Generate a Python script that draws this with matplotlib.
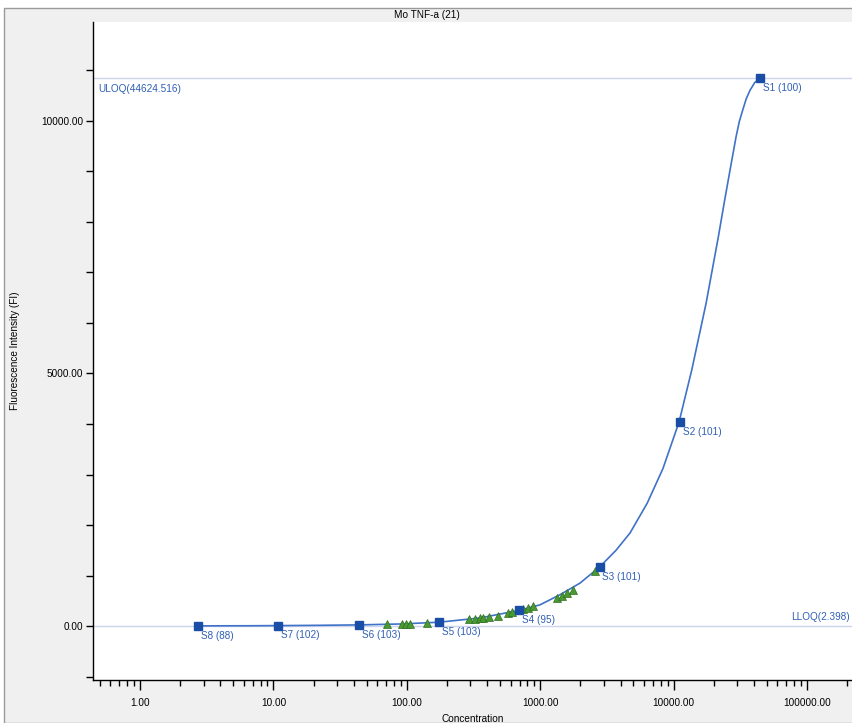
import matplotlib.pyplot as plt
from matplotlib.patches import Rectangle
from matplotlib.ticker import FixedLocator, NullFormatter, LogLocator

plt.rcParams['font.family'] = ['Liberation Sans', 'DejaVu Sans']

# standards (4-fold dilution series)
std_names = ["S1", "S2", "S3", "S4", "S5", "S6", "S7", "S8"]
std_recovery = [100, 101, 101, 95, 103, 103, 102, 88]
std_conc = [44624.5, 11156, 2789, 697, 174.3, 43.6, 10.9, 2.72]
std_fi = [10850, 4040, 1170, 310, 75, 22, 8, 3]

# fitted standard curve
curve_conc = [2.72, 6.7, 10.9, 22.4, 43.6, 89, 174, 354, 697, 997, 1407, 1987,
              2789, 3700, 4710, 6330, 8320, 10977, 13670, 17500, 21640, 24000,
              26470, 29380, 31000, 32970, 35000, 37400, 40500, 44624]
curve_fi = [3, 5, 8, 14, 22, 40, 75, 160, 310, 420, 620, 850,
            1170, 1500, 1842, 2430, 3120, 4040, 5070, 6390, 7710, 8400,
            9030, 9690, 9980, 10220, 10440, 10610, 10760, 10850]

# unknown samples
smp_conc = [71.4, 92.5, 98.6, 105.7, 141, 294, 325, 354, 375, 415, 485, 577,
            611, 747, 814, 888, 1329, 1448, 1579, 1771, 2570]
smp_fi = [30, 40, 45, 47, 60, 135, 145, 155, 165, 180, 205, 250,
          270, 340, 365, 390, 560, 600, 650, 710, 1080]

uloq_fi = 10850
lloq_fi = 3

blue_line = "#3f72c8"
blue_mark = "#1a4ea6"
blue_text = "#2f5fb3"
lim_color = "#cdd4ee"

fig = plt.figure(figsize=(8.53, 7.23), dpi=100, facecolor="white")
fig.patches.append(Rectangle((4 / 853, 0), 1, 1 - 8 / 723, transform=fig.transFigure,
                             facecolor="#f0f0f0", edgecolor="#9a9a9a", linewidth=1.0,
                             zorder=-10))
ax = fig.add_axes([93 / 853, 1 - 680 / 723, 1 - 93 / 853, (680 - 22) / 723])
ax.set_facecolor("white")

ax.set_xscale("log")
ax.set_xlim(0.444, 221000)
ax.set_ylim(-1069, 11960)

ax.axhline(uloq_fi, color=lim_color, linewidth=1.0, zorder=1)
ax.axhline(lloq_fi, color=lim_color, linewidth=1.0, zorder=1)

ax.plot(curve_conc, curve_fi, color=blue_line, linewidth=1.2, zorder=2)
ax.plot(smp_conc, smp_fi, linestyle="none", marker="^", markersize=6,
        markerfacecolor="#4a9a32", markeredgecolor="#2f6e22", markeredgewidth=0.5,
        zorder=3)
ax.plot(std_conc, std_fi, linestyle="none", marker="s", markersize=5.5,
        color=blue_mark, zorder=4)

for name, rec, c, f in zip(std_names, std_recovery, std_conc, std_fi):
    ax.annotate(f"{name} ({rec})", (c, f), xytext=(2, -7), textcoords="offset points",
                ha="left", va="center", fontsize=7.2, color=blue_text)

ax.text(0.484, 10630, "ULOQ(44624.516)", fontsize=7.2, color=blue_text,
        ha="left", va="center")
ax.text(76000, 170, "LLOQ(2.398)", fontsize=7.2, color=blue_text,
        ha="left", va="center")

for s in ["top", "right"]:
    ax.spines[s].set_visible(False)
for s in ["left", "bottom"]:
    ax.spines[s].set_linewidth(1.0)

ax.xaxis.set_major_locator(FixedLocator([1, 10, 100, 1000, 10000, 100000]))
ax.xaxis.set_minor_locator(LogLocator(base=10, subs=range(2, 10), numticks=20))
ax.xaxis.set_minor_formatter(NullFormatter())
ax.set_xticklabels(["1.00", "10.00", "100.00", "1000.00", "10000.00", "100000.00"])
ax.set_yticks([0, 5000, 10000])
ax.set_yticklabels(["0.00", "5000.00", "10000.00"])
ax.yaxis.set_minor_locator(FixedLocator([-1000, 1000, 2000, 3000, 4000, 6000, 7000,
                                         8000, 9000, 11000]))
ax.tick_params(axis="x", which="major", length=7, width=1, labelsize=7.2, pad=6)
ax.tick_params(axis="x", which="minor", length=4, width=1)
ax.tick_params(axis="y", which="both", length=5, width=1, labelsize=7.2, pad=2)

ax.set_xlabel("Concentration", fontsize=7.2, labelpad=4)
ax.set_ylabel("Fluorescence Intensity (FI)", fontsize=7.2, labelpad=15)
fig.text(0.5, 1 - 15 / 723, "Mo TNF-a (21)", fontsize=7.2, ha="center", va="center")

fig.savefig("out.png", dpi=100, facecolor=fig.get_facecolor())
